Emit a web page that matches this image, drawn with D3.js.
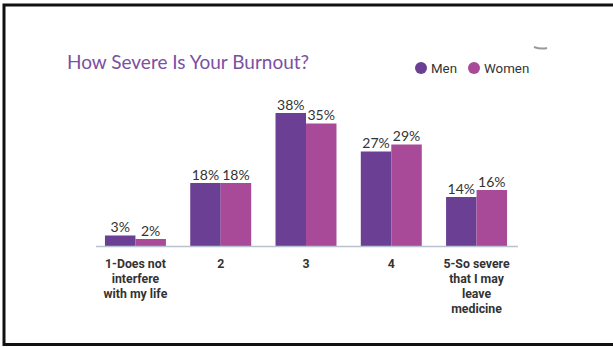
<!DOCTYPE html>
<html>
<head>
<meta charset="utf-8">
<script src="https://cdn.jsdelivr.net/npm/d3@7"></script>
<style>
  body { margin: 0; background: #fff; }
  svg { display: block; }
</style>
</head>
<body>
<svg width="613" height="347"></svg>
<script>
var categories = ["1-Does not|interfere|with my life", "2", "3", "4", "5-So severe|that I may|leave|medicine"];
var seriesNames = ["Men", "Women"];
var men = [3, 18, 38, 27, 14];
var women = [2, 18, 35, 29, 16];
var colors = ["#6b3f94", "#a84a98"];

var svg = d3.select("svg"),
    width = +svg.attr("width"),
    height = +svg.attr("height");

// frame
svg.append("path")
    .attr("d", "M613,5 H4 V344.5 H613")
    .attr("fill", "none")
    .attr("stroke", "#111")
    .attr("stroke-width", 3);

// little grey mark top right
svg.append("path")
    .attr("d", "M534,47 Q541,49.5 547,48")
    .attr("fill", "none")
    .attr("stroke", "#999")
    .attr("stroke-width", 2);

var baseline = 246;

var x = d3.scaleBand()
    .domain(categories)
    .range([96, 516])
    .paddingInner(0.285)
    .paddingOuter(0.105);

var xs = d3.scaleBand()
    .domain(seriesNames)
    .range([0, x.bandwidth()]);

var y = d3.scaleLinear()
    .domain([0, 40])
    .range([baseline, baseline - 140]);

var data = categories.map((c, i) => ({cat: c, vals: [men[i], women[i]]}));

// title
svg.append("text")
    .attr("x", 67)
    .attr("y", 68.5)
    .attr("font-family", "Lato")
    .attr("font-size", 19)
    .attr("font-weight", 400)
    .attr("fill", "#7a50a3")
    .text("How Severe Is Your Burnout?");

// legend
var legend = svg.append("g").attr("transform", "translate(421,68)");
var lx = [0, 53];
seriesNames.forEach((s, i) => {
  legend.append("circle")
      .attr("cx", lx[i])
      .attr("cy", 0)
      .attr("r", 6)
      .attr("fill", colors[i]);
  legend.append("text")
      .attr("x", lx[i] + 10)
      .attr("y", 4.5)
      .attr("font-family", "Roboto")
      .attr("font-size", 13.3)
      .attr("fill", "#333")
      .text(s);
});

// bars
var groups = svg.append("g")
    .selectAll("g")
    .data(data)
    .enter().append("g")
    .attr("transform", d => "translate(" + x(d.cat) + ",0)");

groups.selectAll("rect")
    .data(d => d.vals.map((v, i) => ({name: seriesNames[i], v: v, i: i})))
    .enter().append("rect")
    .attr("x", d => xs(d.name))
    .attr("y", d => y(d.v))
    .attr("width", xs.bandwidth())
    .attr("height", d => baseline - y(d.v))
    .attr("fill", d => colors[d.i]);

groups.selectAll("text.val")
    .data(d => d.vals.map((v, i) => ({name: seriesNames[i], v: v, i: i})))
    .enter().append("text")
    .attr("class", "val")
    .attr("x", d => xs(d.name) + xs.bandwidth() / 2)
    .attr("y", d => y(d.v) - 3.5)
    .attr("text-anchor", "middle")
    .attr("font-family", "Lato")
    .attr("font-size", 14)
    .attr("fill", "#333")
    .text(d => d.v + "%");

// axis line
svg.append("line")
    .attr("x1", 96)
    .attr("x2", 518)
    .attr("y1", baseline + 0.5)
    .attr("y2", baseline + 0.5)
    .attr("stroke", "#b9c3d0")
    .attr("stroke-width", 1.5);

// category labels
var labels = svg.append("g")
    .selectAll("text")
    .data(categories)
    .enter().append("text")
    .attr("x", d => x(d) + x.bandwidth() / 2)
    .attr("y", baseline + 22)
    .attr("text-anchor", "middle")
    .attr("font-family", "Roboto")
    .attr("font-weight", 700)
    .attr("font-size", 12.3)
    .attr("fill", "#333");

labels.selectAll("tspan")
    .data(d => d.split("|"))
    .enter().append("tspan")
    .attr("x", function() { return d3.select(this.parentNode).attr("x"); })
    .attr("dy", (d, i) => i == 0 ? 0 : 15)
    .text(d => d);
</script>
</body>
</html>
